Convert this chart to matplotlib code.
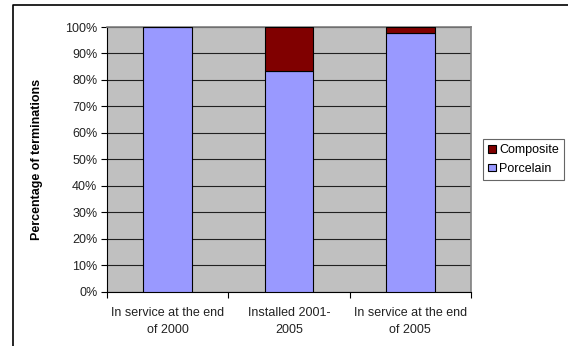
import matplotlib
matplotlib.use("Agg")
import matplotlib.pyplot as plt
from matplotlib.lines import Line2D
from matplotlib.ticker import FuncFormatter, FixedLocator

categories = ["In service at the end\nof 2000", "Installed 2001-\n2005", "In service at the end\nof 2005"]
porcelain = [100.0, 83.4, 97.9]
composite = [0.0, 16.6, 2.1]
series_names = ["Porcelain", "Composite"]

plt.rcParams['font.family'] = ['Liberation Sans', 'DejaVu Sans']

W, H = 568, 346
FS = 9
fig = plt.figure(figsize=(W / 100, H / 100), dpi=100)
fig.patch.set_facecolor("white")

left, right, top, bottom = 107, 471, 27, 291.7
ax = fig.add_axes([left / W, 1 - bottom / H, (right - left) / W, (bottom - top) / H])
ax.set_facecolor("#C0C0C0")

x = list(range(len(categories)))
b1 = ax.bar(x, porcelain, width=0.4, color="#9999FF", edgecolor="black", linewidth=0.8,
            label=series_names[0], zorder=3)
b2 = ax.bar(x, composite, width=0.4, bottom=porcelain, color="#800000", edgecolor="black",
            linewidth=0.8, label=series_names[1], zorder=3)

ax.set_xlim(-0.5, len(categories) - 0.5)
ax.set_ylim(0, 100)
ax.set_yticks(range(0, 101, 10))
ax.yaxis.set_major_formatter(FuncFormatter(lambda v, p: f"{int(v)}%"))
ax.yaxis.grid(True, color="#202020", linewidth=0.8, zorder=1)
ax.set_axisbelow(True)

ax.set_xticks(x)
ax.set_xticklabels(categories, fontsize=FS, color="#222222", linespacing=1.55)
ax.xaxis.set_minor_locator(FixedLocator([-0.5, 0.5, 1.5, 2.5]))
ax.tick_params(axis="x", which="major", length=0, pad=11)
ax.tick_params(axis="x", which="minor", length=4, width=0.8, color="black", direction="out")
ax.tick_params(axis="y", length=4, width=0.8, color="black", direction="out", labelsize=FS,
               labelcolor="#222222", pad=3)

for side in ["top", "right"]:
    ax.spines[side].set_color("#808080")
    ax.spines[side].set_linewidth(1.2)
ax.spines["left"].set_color("black")
ax.spines["bottom"].set_color("black")
ax.spines["left"].set_linewidth(0.8)
ax.spines["bottom"].set_linewidth(0.8)

ax.set_ylabel("Percentage of terminations", fontsize=FS, fontweight="bold", labelpad=16)

handles = [b2, b1]
leg = fig.legend(handles, [series_names[1], series_names[0]], loc="upper left",
                 bbox_to_anchor=(483 / W, 1 - 139 / H), fontsize=FS, frameon=True,
                 fancybox=False, edgecolor="#404040", handlelength=0.6, handleheight=0.6,
                 handletextpad=0.3, borderpad=0.4, labelspacing=0.55, borderaxespad=0)
leg.get_frame().set_linewidth(0.8)

# outer chart frame
fig.add_artist(Line2D([12.5 / W, 12.5 / W, 1.0], [0.0, 1 - 5 / H, 1 - 5 / H],
                      transform=fig.transFigure, color="black", linewidth=1.2))

fig.savefig("out.png", dpi=100)
